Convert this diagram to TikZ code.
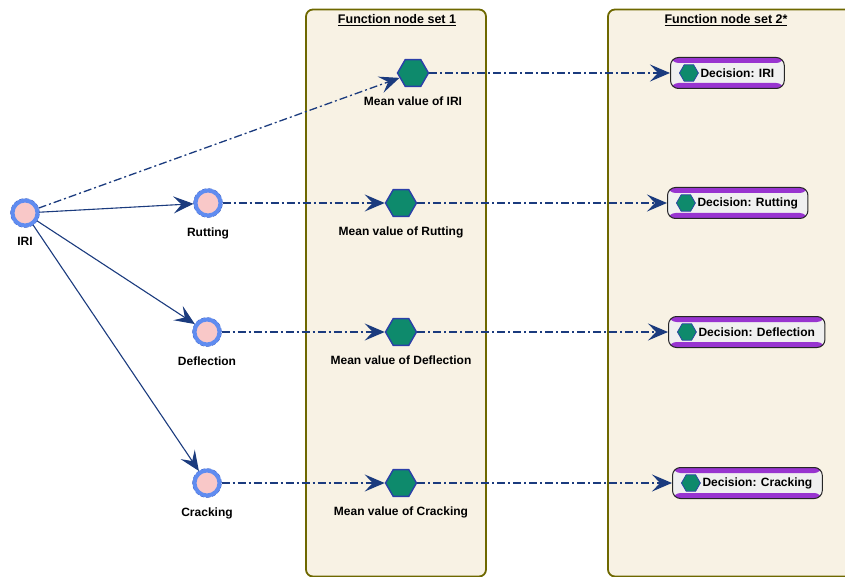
\documentclass[tikz,border=0pt]{standalone}
\usepackage{fontspec}
\setmainfont{Liberation Sans}
\usepackage{tikz}
\usetikzlibrary{arrows.meta,positioning,shapes.geometric}

\definecolor{navyline}{RGB}{27,59,126}
\definecolor{hexgreen}{RGB}{14,138,108}
\definecolor{hexblue}{RGB}{43,63,168}
\definecolor{ringblue}{RGB}{96,140,240}
\definecolor{ringdark}{RGB}{38,76,180}
\definecolor{pinkfill}{RGB}{249,200,200}
\definecolor{panelfill}{RGB}{248,242,228}
\definecolor{panelline}{RGB}{110,104,0}
\definecolor{stripe}{RGB}{152,52,208}
\definecolor{boxgray}{RGB}{240,240,240}

\begin{document}
\begin{tikzpicture}[
    x=1pt, y=-1pt,
    font=\bfseries\fontsize{12}{14}\selectfont,
    panel/.style={draw=panelline, line width=1.8pt, fill=panelfill, rounded corners=7pt, minimum width=180pt, minimum height=567pt},
    settitle/.style={font=\bfseries\fontsize{12.5}{14}\selectfont, inner sep=1pt},
    source/.style={circle, minimum size=25pt, inner sep=0pt, fill=pinkfill, draw=ringblue, line width=4pt,
        append after command={
            \pgfextra{\draw[ringdark, line width=0.9pt, dash pattern=on 4pt off 2pt] (\tikzlastnode.center) circle (14.2pt);
                      \draw[ringdark, line width=0.6pt] (\tikzlastnode.center) circle (10.3pt);}}},
    meanval/.style={regular polygon, regular polygon sides=6, minimum size=31pt, inner sep=0pt, fill=hexgreen, draw=hexblue, line width=1.4pt},
    icon/.style={regular polygon, regular polygon sides=6, minimum size=19pt, inner sep=0pt, fill=hexgreen, draw=hexblue, line width=0.7pt},
    decision/.style={draw=black!85, line width=1pt, fill=boxgray, rounded corners=8pt, minimum height=31pt, inner xsep=10pt, anchor=west,
        path picture={
            \fill[stripe] (path picture bounding box.north west) rectangle ([yshift=-5.5pt]path picture bounding box.north east);
            \fill[stripe] (path picture bounding box.south west) rectangle ([yshift=5.5pt]path picture bounding box.south east);
        }},
    lbl/.style={inner sep=1pt},
    link/.style={draw=navyline, line width=1.1pt, -{Stealth[length=20pt, width=17pt, inset=8pt]}},
    flow/.style={draw=navyline, line width=1.3pt, dash pattern=on 8pt off 3pt on 2pt off 3pt, -{Stealth[length=20pt, width=17pt, inset=8pt]}}
]
\useasboundingbox (0,0) rectangle (845,577);

% panels
\node[panel] (set1) at (396,293) {};
\node[panel, minimum width=262pt] (set2) at (739,293) {};
\node[settitle] (title1) at (397,20) {\underline{Function node set 1}};
\node[settitle] (title2) at (726,20) {\underline{Function node set 2*}};

% input nodes
\node[source] (iri) at (25,213) {};
\node[source] (rut) at (208,203) {};
\node[source] (defl) at (207,332) {};
\node[source] (crack) at (207,483) {};
\node[lbl, below=9pt of iri] (iril) {IRI};
\node[lbl, below=9pt of rut] (rutl) {Rutting};
\node[lbl, below=9pt of defl] (defll) {Deflection};
\node[lbl, below=9pt of crack] (crackl) {Cracking};

% mean value nodes
\node[meanval] (m1) at (413,73) {};
\node[meanval] (m2) at (401,203) {};
\node[meanval] (m3) at (401,332) {};
\node[meanval] (m4) at (401,483) {};
\node[lbl, below=8pt of m1] (m1l) {Mean value of IRI};
\node[lbl, below=8pt of m2] (m2l) {Mean value of Rutting};
\node[lbl, below=8pt of m3] (m3l) {Mean value of Deflection};
\node[lbl, below=8pt of m4] (m4l) {Mean value of Cracking};

% decision nodes
\node[decision] (d1) at (670,73) {\hspace*{20pt}Decision: IRI};
\node[decision] (d2) at (667,203) {\hspace*{20pt}Decision: Rutting};
\node[decision] (d3) at (668,332) {\hspace*{20pt}Decision: Deflection};
\node[decision] (d4) at (672,483) {\hspace*{20pt}Decision: Cracking};
\node[icon, right=9pt of d1.west] (i1) {};
\node[icon, right=9pt of d2.west] (i2) {};
\node[icon, right=9pt of d3.west] (i3) {};
\node[icon, right=9pt of d4.west] (i4) {};

% connectors
\draw[flow] (iri) -- (m1);
\draw[link] (iri) -- (rut);
\draw[link] (iri) -- (defl);
\draw[link] (iri) -- (crack);
\draw[flow] (rut) -- (m2);
\draw[flow] (defl) -- (m3);
\draw[flow] (crack) -- (m4);
\draw[flow] (m1) -- (d1);
\draw[flow] (m2) -- (d2);
\draw[flow] (m3) -- (d3);
\draw[flow] (m4) -- (d4);

\end{tikzpicture}
\end{document}
